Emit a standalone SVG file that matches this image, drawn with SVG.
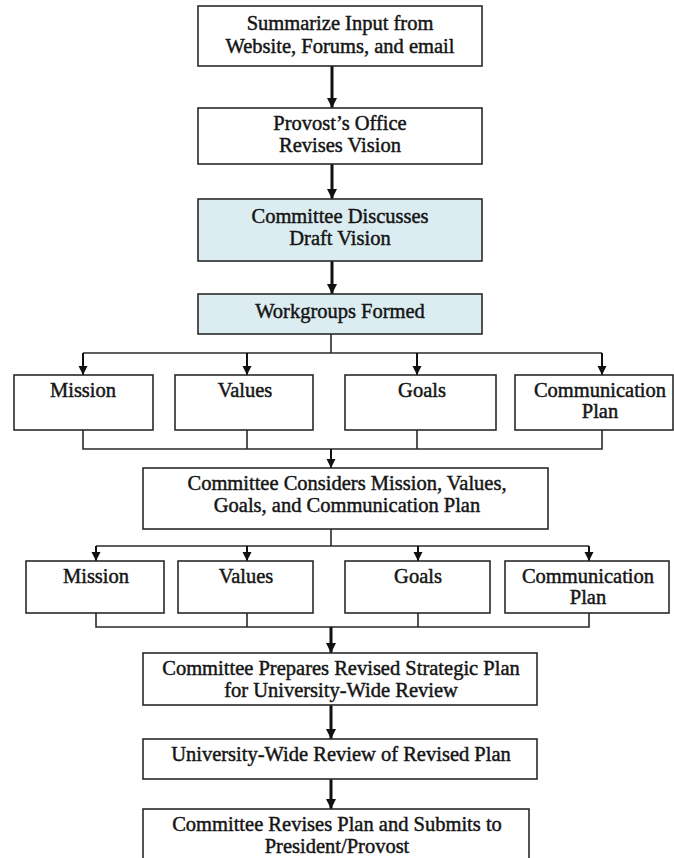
<svg xmlns="http://www.w3.org/2000/svg" width="674" height="858" viewBox="0 0 674 858">
<style>
.box{fill:#ffffff;stroke:#2a2a2a;stroke-width:1.6}
.blue{fill:#dcedf2}
.t{font-family:"Liberation Serif","Times New Roman",serif;font-size:20.5px;fill:#151515;text-anchor:middle;stroke:#151515;stroke-width:0.45}
.ln{fill:none;stroke:#2a2a2a;stroke-width:1.6}
.ar{fill:none;stroke:#111;stroke-width:3}
.ar2{fill:none;stroke:#111;stroke-width:2}
</style>
<defs>
<marker id="ah" viewBox="0 0 10 10" refX="10" refY="5" markerWidth="10" markerHeight="10" markerUnits="userSpaceOnUse" orient="auto">
<path d="M0,0 L10,5 L0,10 z" fill="#111"/>
</marker>
<marker id="ah2" viewBox="0 0 10 10" refX="10" refY="5" markerWidth="9" markerHeight="10" markerUnits="userSpaceOnUse" orient="auto">
<path d="M0,0 L10,5 L0,10 z" fill="#111"/>
</marker>
</defs>
<rect width="674" height="858" fill="#ffffff"/>
<g id="connectors">
<line class="ar" x1="332" y1="66" x2="332" y2="108" marker-end="url(#ah)"/>
<line class="ar" x1="332" y1="164" x2="332" y2="199" marker-end="url(#ah)"/>
<line class="ar" x1="332" y1="261" x2="332" y2="294" marker-end="url(#ah)"/>
<polyline class="ln" points="331,334 331,353"/>
<line class="ln" x1="83" y1="353" x2="602" y2="353"/>
<line class="ar2" x1="83" y1="353" x2="83" y2="375" marker-end="url(#ah2)"/>
<line class="ar2" x1="247" y1="353" x2="247" y2="375" marker-end="url(#ah2)"/>
<line class="ar2" x1="417" y1="353" x2="417" y2="375" marker-end="url(#ah2)"/>
<line class="ar2" x1="602" y1="353" x2="602" y2="375" marker-end="url(#ah2)"/>
<polyline class="ln" points="83,430 83,449 602,449 602,430"/>
<line class="ln" x1="247" y1="430" x2="247" y2="449"/>
<line class="ln" x1="417" y1="430" x2="417" y2="449"/>
<line class="ar2" x1="331" y1="449" x2="331" y2="468" marker-end="url(#ah2)"/>
<polyline class="ln" points="331,529 331,546"/>
<line class="ln" x1="96" y1="546" x2="589" y2="546"/>
<line class="ar2" x1="96" y1="546" x2="96" y2="561" marker-end="url(#ah2)"/>
<line class="ar2" x1="247" y1="546" x2="247" y2="561" marker-end="url(#ah2)"/>
<line class="ar2" x1="418" y1="546" x2="418" y2="561" marker-end="url(#ah2)"/>
<line class="ar2" x1="589" y1="546" x2="589" y2="561" marker-end="url(#ah2)"/>
<polyline class="ln" points="96,613 96,627 589,627 589,613"/>
<line class="ln" x1="247" y1="613" x2="247" y2="627"/>
<line class="ln" x1="418" y1="613" x2="418" y2="627"/>
<line class="ar" x1="331" y1="627" x2="331" y2="653" marker-end="url(#ah)"/>
<line class="ar" x1="331" y1="705" x2="331" y2="739" marker-end="url(#ah)"/>
<line class="ar" x1="331" y1="779" x2="331" y2="809" marker-end="url(#ah)"/>
</g>
<g id="n1"><rect class="box" x="198" y="6" width="284" height="60"/><text class="t" x="340" y="30">Summarize Input from</text><text class="t" x="340" y="53">Website, Forums, and email</text></g>
<g id="n2"><rect class="box" x="198" y="108" width="284" height="56"/><text class="t" x="340" y="130">Provost’s Office</text><text class="t" x="340" y="152">Revises Vision</text></g>
<g id="n3"><rect class="box blue" x="198" y="199" width="284" height="62"/><text class="t" x="340" y="223">Committee Discusses</text><text class="t" x="340" y="245">Draft Vision</text></g>
<g id="n4"><rect class="box blue" x="198" y="294" width="284" height="40"/><text class="t" x="340" y="318">Workgroups Formed</text></g>
<g id="m1"><rect class="box" x="14" y="375" width="139" height="55"/><text class="t" x="83" y="397">Mission</text></g>
<g id="v1"><rect class="box" x="175" y="375" width="138" height="55"/><text class="t" x="245" y="397">Values</text></g>
<g id="g1"><rect class="box" x="345" y="375" width="151" height="55"/><text class="t" x="422" y="397">Goals</text></g>
<g id="c1"><rect class="box" x="515" y="375" width="158" height="55"/><text class="t" x="600" y="397">Communication</text><text class="t" x="600" y="418">Plan</text></g>
<g id="n5"><rect class="box" x="143" y="468" width="405" height="61"/><text class="t" x="347" y="490">Committee Considers Mission, Values,</text><text class="t" x="347" y="512">Goals, and Communication Plan</text></g>
<g id="m2"><rect class="box" x="26" y="561" width="138" height="52"/><text class="t" x="96" y="583">Mission</text></g>
<g id="v2"><rect class="box" x="178" y="561" width="135" height="52"/><text class="t" x="246" y="583">Values</text></g>
<g id="g2"><rect class="box" x="345" y="561" width="145" height="52"/><text class="t" x="418" y="583">Goals</text></g>
<g id="c2"><rect class="box" x="505" y="561" width="164" height="52"/><text class="t" x="588" y="583">Communication</text><text class="t" x="588" y="604">Plan</text></g>
<g id="n6"><rect class="box" x="143" y="653" width="394" height="52"/><text class="t" x="341" y="675">Committee Prepares Revised Strategic Plan</text><text class="t" x="341" y="697">for University-Wide Review</text></g>
<g id="n7"><rect class="box" x="143" y="739" width="394" height="40"/><text class="t" x="341" y="761">University-Wide Review of Revised Plan</text></g>
<g id="n8"><rect class="box" x="143" y="809" width="386" height="62"/><text class="t" x="337" y="831">Committee Revises Plan and Submits to</text><text class="t" x="337" y="853">President/Provost</text></g>
</svg>
